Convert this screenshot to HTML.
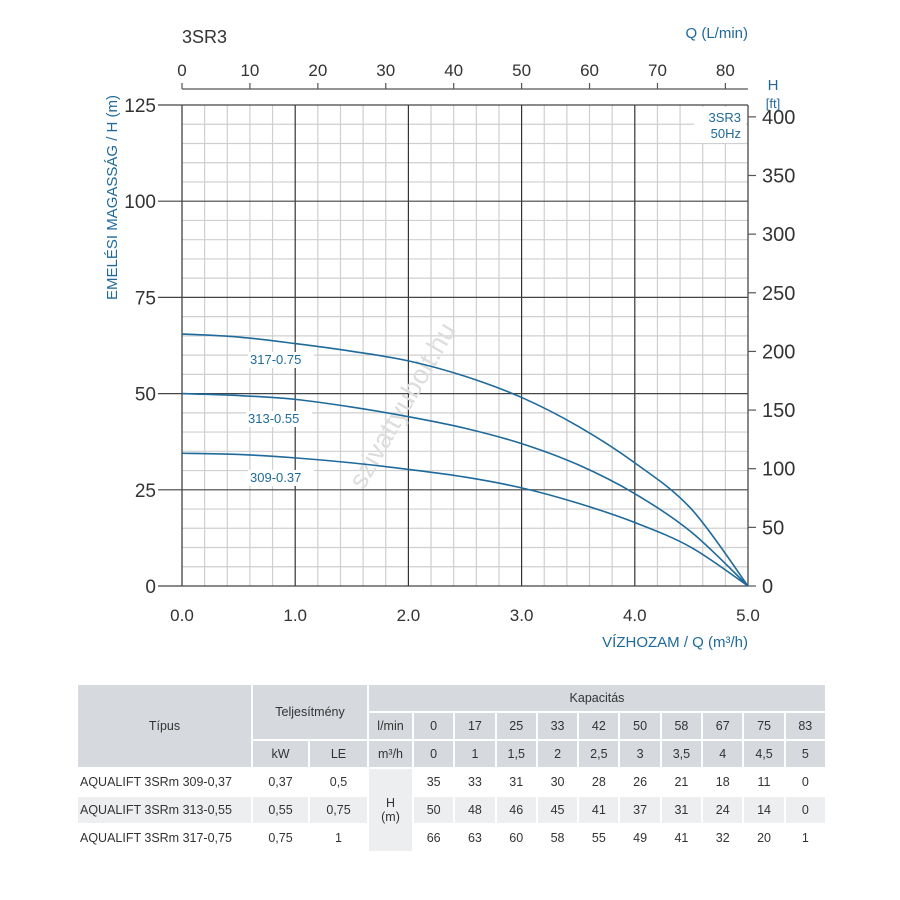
<!DOCTYPE html>
<html><head><meta charset="utf-8">
<style>
body{margin:0;background:#fff;width:900px;height:900px;overflow:hidden;font-family:"Liberation Sans",sans-serif;}
svg{position:absolute;left:0;top:0}
table{position:absolute;left:76px;top:683px;border-collapse:collapse;font-family:"Liberation Sans",sans-serif;font-size:12.5px;color:#333;table-layout:fixed}
td{text-align:center;padding:0;border:2px solid #fff;height:24px}
tr{height:28px}
.h{background:#d6dadf}
.g{background:#eceef0}
.l{text-align:left;padding-left:2px}
</style></head><body>
<svg id="s" width="900" height="680" xmlns="http://www.w3.org/2000/svg"></svg>
<table>
<colgroup><col style="width:175px"><col style="width:57px"><col style="width:59px"><col style="width:45px"><col span="10" style="width:41.3px"></colgroup>
<tr class="h"><td rowspan="3">Típus</td><td colspan="2" rowspan="2">Teljesítmény</td><td colspan="11">Kapacitás</td></tr>
<tr class="h"><td>l/min</td><td>0</td><td>17</td><td>25</td><td>33</td><td>42</td><td>50</td><td>58</td><td>67</td><td>75</td><td>83</td></tr>
<tr class="h"><td>kW</td><td>LE</td><td>m³/h</td><td>0</td><td>1</td><td>1,5</td><td>2</td><td>2,5</td><td>3</td><td>3,5</td><td>4</td><td>4,5</td><td>5</td></tr>
<tr><td class="l">AQUALIFT 3SRm 309-0,37</td><td>0,37</td><td>0,5</td><td rowspan="3" class="g">H<br>(m)</td><td>35</td><td>33</td><td>31</td><td>30</td><td>28</td><td>26</td><td>21</td><td>18</td><td>11</td><td>0</td></tr>
<tr class="g"><td class="l">AQUALIFT 3SRm 313-0,55</td><td>0,55</td><td>0,75</td><td>50</td><td>48</td><td>46</td><td>45</td><td>41</td><td>37</td><td>31</td><td>24</td><td>14</td><td>0</td></tr>
<tr><td class="l">AQUALIFT 3SRm 317-0,75</td><td>0,75</td><td>1</td><td>66</td><td>63</td><td>60</td><td>58</td><td>55</td><td>49</td><td>41</td><td>32</td><td>20</td><td>1</td></tr>
</table>
<script>
var s=document.getElementById('s'),h='';
var X0=182,X1=748,Y0=586,YT=105,ux=113.2,uy=3.848;
for(var i=0;i<=25;i++){var x=X0+i*ux/5;if(i%5)h+='<line x1="'+x+'" y1="'+YT+'" x2="'+x+'" y2="'+Y0+'" stroke="#cfcfcf" stroke-width="1.2"/>';}
for(var j=0;j<=25;j++){var y=Y0-j*5*uy;if(j%5)h+='<line x1="'+X0+'" y1="'+y+'" x2="'+X1+'" y2="'+y+'" stroke="#cfcfcf" stroke-width="1.2"/>';}
for(var i=0;i<=5;i++){var x=X0+i*ux;h+='<line x1="'+x+'" y1="'+YT+'" x2="'+x+'" y2="'+Y0+'" stroke="#333" stroke-width="1.2"/>';
h+='<text x="'+x+'" y="621" font-size="17" fill="#333" text-anchor="middle">'+(i.toFixed(1))+'</text>';}
for(var j=0;j<=5;j++){var y=Y0-j*25*uy;h+='<line x1="158" y1="'+y+'" x2="'+X1+'" y2="'+y+'" stroke="#444" stroke-width="1.2"/>';
h+='<text x="156" y="'+(y+7)+'" font-size="19" fill="#333" text-anchor="end">'+(j*25)+'</text>';}
h+='<line x1="'+X1+'" y1="'+YT+'" x2="'+X1+'" y2="'+Y0+'" stroke="#555" stroke-width="1.2"/>';
h+='<rect x="694" y="107" width="52" height="36" fill="#fff"/><text x="741" y="122" font-size="13" fill="#1f6a9a" text-anchor="end">3SR3</text><text x="741" y="138" font-size="13" fill="#1f6a9a" text-anchor="end">50Hz</text>';
for(var f=0;f<=400;f+=50){var y=Y0-f*0.3048*uy;h+='<line x1="'+X1+'" y1="'+y+'" x2="756" y2="'+y+'" stroke="#555" stroke-width="1.2"/><text x="762" y="'+(y+7)+'" font-size="20" fill="#333">'+f+'</text>';}
h+='<line x1="182" y1="89" x2="748" y2="89" stroke="#555" stroke-width="1.2"/>';
for(var q=0;q<=80;q+=10){var x=X0+q*566/83.33;h+='<line x1="'+x+'" y1="83" x2="'+x+'" y2="89" stroke="#555" stroke-width="1.2"/><text x="'+x+'" y="76" font-size="17" fill="#333" text-anchor="middle">'+q+'</text>';}
h+='<text x="182" y="43" font-size="18" fill="#333">3SR3</text>';
h+='<text x="748" y="38" font-size="15" fill="#1f6a9a" text-anchor="end">Q (L/min)</text>';
h+='<text x="773" y="90" font-size="15" fill="#1f6a9a" text-anchor="middle">H</text><text x="773" y="108" font-size="13" fill="#1f6a9a" text-anchor="middle">[ft]</text>';
h+='<text x="748" y="647" font-size="15" fill="#1f6a9a" text-anchor="end">VÍZHOZAM / Q (m³/h)</text>';
h+='<text transform="translate(117,300) rotate(-90)" font-size="15" fill="#1f6a9a">EMELÉSI MAGASSÁG / H (m)</text>';
h+='<text transform="translate(410,410) rotate(-60)" font-size="27" fill="#ddd" text-anchor="middle">szivattyubolt.hu</text>';
var c=[[65.5,64.7,63,61,58.5,54.5,49,41.5,32,20,0],[50,49.5,48.5,46.5,44,41,37,31.5,24,14,0],[34.5,34.2,33.3,32,30.3,28.3,25.5,21.5,16.5,10,0]];
c.forEach(function(a){var p=a.map(function(v,k){return[X0+k*ux/2,Y0-v*uy]});
var d='M'+p[0];for(var k=0;k<p.length-1;k++){var p0=p[Math.max(k-1,0)],p1=p[k],p2=p[k+1],p3=p[Math.min(k+2,p.length-1)];
d+=' C'+(p1[0]+(p2[0]-p0[0])/6)+','+(p1[1]+(p2[1]-p0[1])/6)+' '+(p2[0]-(p3[0]-p1[0])/6)+','+(p2[1]-(p3[1]-p1[1])/6)+' '+p2;}
h+='<path d="'+d+'" fill="none" stroke="#1f6a9a" stroke-width="1.6"/>';});
[['317-0.75',250,364],['313-0.55',248,423],['309-0.37',250,482]].forEach(function(l){h+='<rect x="'+(l[1]-2)+'" y="'+(l[2]-12)+'" width="66" height="16" fill="#fff"/><text x="'+l[1]+'" y="'+l[2]+'" font-size="13" fill="#1f6a9a">'+l[0]+'</text>';});
s.innerHTML=h;
</script>
</body></html>
